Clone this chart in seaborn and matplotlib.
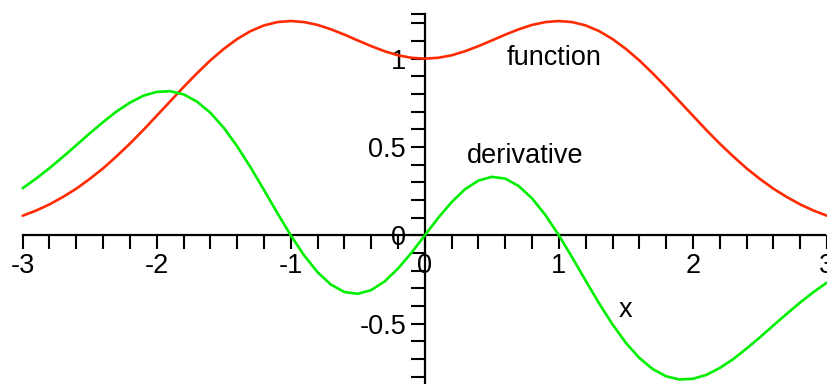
import numpy as np
import pandas as pd
import matplotlib
matplotlib.use("Agg")
import matplotlib.pyplot as plt
import seaborn as sns

# Sample positions along x
x = [-3.0, -2.9, -2.8, -2.7, -2.6, -2.5, -2.4, -2.3, -2.2, -2.1,
     -2.0, -1.9, -1.8, -1.7, -1.6, -1.5, -1.4, -1.3, -1.2, -1.1,
     -1.0, -0.9, -0.8, -0.7, -0.6, -0.5, -0.4, -0.3, -0.2, -0.1,
     0.0, 0.1, 0.2, 0.3, 0.4, 0.5, 0.6, 0.7, 0.8, 0.9,
     1.0, 1.1, 1.2, 1.3, 1.4, 1.5, 1.6, 1.7, 1.8, 1.9,
     2.0, 2.1, 2.2, 2.3, 2.4, 2.5, 2.6, 2.7, 2.8, 2.9, 3.0]

# The function
function_vals = [0.111, 0.140, 0.175, 0.217, 0.264, 0.319, 0.379, 0.447, 0.519, 0.596,
                 0.677, 0.758, 0.839, 0.917, 0.990, 1.055, 1.111, 1.156, 1.188, 1.207,
                 1.213, 1.207, 1.191, 1.166, 1.136, 1.103, 1.071, 1.042, 1.019, 1.005,
                 1.000, 1.005, 1.019, 1.042, 1.071, 1.103, 1.136, 1.166, 1.191, 1.207,
                 1.213, 1.207, 1.188, 1.156, 1.111, 1.055, 0.990, 0.917, 0.839, 0.758,
                 0.677, 0.596, 0.519, 0.447, 0.379, 0.319, 0.264, 0.217, 0.175, 0.140, 0.111]

# Its derivative
derivative_vals = [0.267, 0.321, 0.380, 0.444, 0.510, 0.577, 0.641, 0.701, 0.751, 0.790,
                   0.812, 0.816, 0.798, 0.757, 0.694, 0.609, 0.504, 0.385, 0.257, 0.126,
                   0.000, -0.114, -0.209, -0.279, -0.321, -0.331, -0.310, -0.261, -0.188, -0.099,
                   0.000, 0.099, 0.188, 0.261, 0.310, 0.331, 0.321, 0.279, 0.209, 0.114,
                   0.000, -0.126, -0.257, -0.385, -0.504, -0.609, -0.694, -0.757, -0.798, -0.816,
                   -0.812, -0.790, -0.751, -0.701, -0.641, -0.577, -0.510, -0.444, -0.380, -0.321, -0.267]

x_tick_values = [-3, -2, -1, 0, 1, 2, 3]
x_tick_labels = ["-3", "-2", "-1", "0", "1", "2", "3"]
y_tick_values = [-0.5, 0, 0.5, 1]
y_tick_labels = ["-0.5", "0", "0.5", "1"]

sns.set_style("white")
plt.rcParams["font.family"] = ["Liberation Sans", "DejaVu Sans"]
plt.rcParams["text.color"] = "black"

df = pd.DataFrame({
    "x": x + x,
    "y": function_vals + derivative_vals,
    "curve": ["function"] * len(x) + ["derivative"] * len(x),
})

fig = plt.figure(figsize=(8.27, 3.84), dpi=100)
ax = fig.add_axes([0, 0, 1, 1])
ax.set_facecolor("white")

sns.lineplot(data=df, x="x", y="y", hue="curve",
             palette={"function": "#ff2a00", "derivative": "#00ee00"},
             linewidth=1.9, legend=False, sort=False, ax=ax, zorder=3,
             solid_joinstyle="round")

ax.set_xlim(-3.169, 2.985)
ax.set_ylim(-0.8415, 1.332)

# Axes crossing at the origin
for side in ("top", "right"):
    ax.spines[side].set_visible(False)
ax.spines["left"].set_position(("data", 0))
ax.spines["bottom"].set_position(("data", 0))
ax.spines["left"].set_bounds(-0.8415, 1.255)
ax.spines["bottom"].set_bounds(-3, 2.985)
for side in ("left", "bottom"):
    ax.spines[side].set_linewidth(1.6)
    ax.spines[side].set_color("black")
    ax.spines[side].set_zorder(2.5)

ax.set_xticks(x_tick_values, labels=x_tick_labels)
ax.set_xticks([v / 10 for v in range(-30, 31, 2) if v % 10 != 0], minor=True)
ax.set_yticks(y_tick_values, labels=y_tick_labels)
ax.set_yticks([v / 10 for v in range(-8, 13) if v % 5 != 0] + [1.25], minor=True)

ax.tick_params(axis="both", which="both", direction="out", length=10,
               width=1.5, color="black", labelsize=19.5, labelcolor="black")
ax.tick_params(axis="x", which="both", bottom=True, pad=3)
ax.tick_params(axis="y", which="both", left=True, pad=3.5)
ax.set_xlabel("")
ax.set_ylabel("")

ax.text(0.612, 0.964, "function", fontsize=19.5, color="black", ha="left", va="baseline")
ax.text(0.314, 0.408, "derivative", fontsize=19.5, color="black", ha="left", va="baseline")
ax.text(1.445, -0.464, "x", fontsize=19.5, color="black", ha="left", va="baseline")

fig.savefig("out.png", dpi=100, facecolor="white")
